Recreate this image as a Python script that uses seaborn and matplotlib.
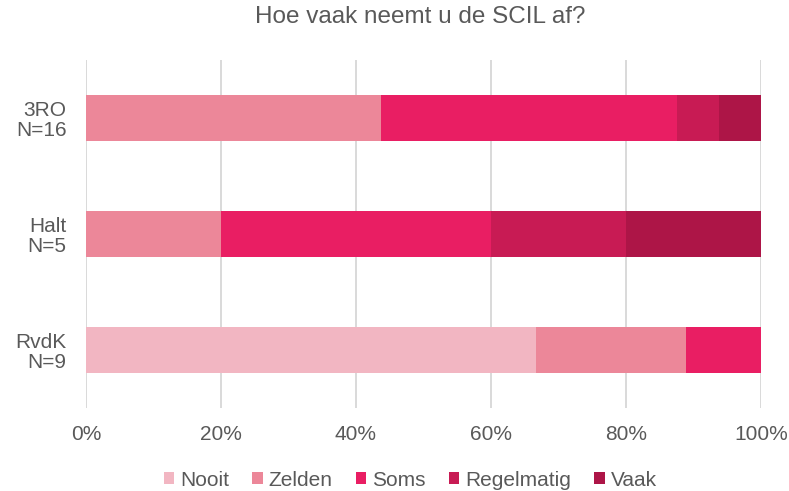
import numpy as np
import pandas as pd
import matplotlib.pyplot as plt
import matplotlib.ticker as mticker
import seaborn as sns

# ── Data ──────────────────────────────────────────────────────────────────────
groups = ["3RO\nN=16", "Halt\nN=5", "RvdK\nN=9"]
answers = ["Nooit", "Zelden", "Soms", "Regelmatig", "Vaak"]
nooit = [0.0, 0.0, 66.7]
zelden = [43.75, 20.0, 22.2]
soms = [43.75, 40.0, 11.1]
regelmatig = [6.25, 20.0, 0.0]
vaak = [6.25, 20.0, 0.0]

colors = ["#F2B6C2", "#EC8799", "#E91E63", "#C81B54", "#AD1547"]
TEXT = "#595959"

sns.set_theme(style="white")
plt.rcParams["font.family"] = ["Liberation Sans", "DejaVu Sans"]

df = pd.DataFrame({"group": groups, "Nooit": nooit, "Zelden": zelden,
                   "Soms": soms, "Regelmatig": regelmatig, "Vaak": vaak})
cum = df[answers].cumsum(axis=1)

fig = plt.figure(figsize=(7.89, 4.91), dpi=100)
ax = fig.add_axes([0.109, 0.169, 0.8555, 0.709])

# draw cumulative bars from the largest down so each layer shows its own share
for ans, col in reversed(list(zip(answers, colors))):
    sns.barplot(x=cum[ans], y=df["group"], color=col, width=0.40,
                saturation=1, linewidth=0, ax=ax, label=ans, zorder=3)

ax.set_xlim(0, 100)
ax.xaxis.set_major_locator(mticker.MultipleLocator(20))
ax.xaxis.set_major_formatter(mticker.PercentFormatter(decimals=0))
ax.grid(axis="x", color="#D9D9D9", linewidth=1.4, zorder=0)
ax.set_axisbelow(True)
for s in ax.spines.values():
    s.set_visible(False)
ax.set_xlabel("")
ax.set_ylabel("")
ax.tick_params(axis="both", length=0, labelsize=15, labelcolor=TEXT)
ax.tick_params(axis="x", pad=12)
ax.tick_params(axis="y", pad=14)
for lab in ax.get_yticklabels():
    lab.set_horizontalalignment("right")
    lab.set_multialignment("right")
    lab.set_linespacing(1.05)

fig.suptitle("Hoe vaak neemt u de SCIL af?", x=0.532, y=0.988,
             fontsize=17.5, color=TEXT)

handles, labels = ax.get_legend_handles_labels()
order = [labels.index(a) for a in answers]
fig.legend([handles[i] for i in order], answers, loc="center",
           bbox_to_anchor=(0.520, 0.022), ncol=5, frameon=False,
           fontsize=15, labelcolor=TEXT, handlelength=0.5, handleheight=0.5,
           handletextpad=0.3, columnspacing=1.1, borderpad=0)
if ax.get_legend() is not None:
    ax.get_legend().remove()

fig.savefig("out.png", dpi=100)
